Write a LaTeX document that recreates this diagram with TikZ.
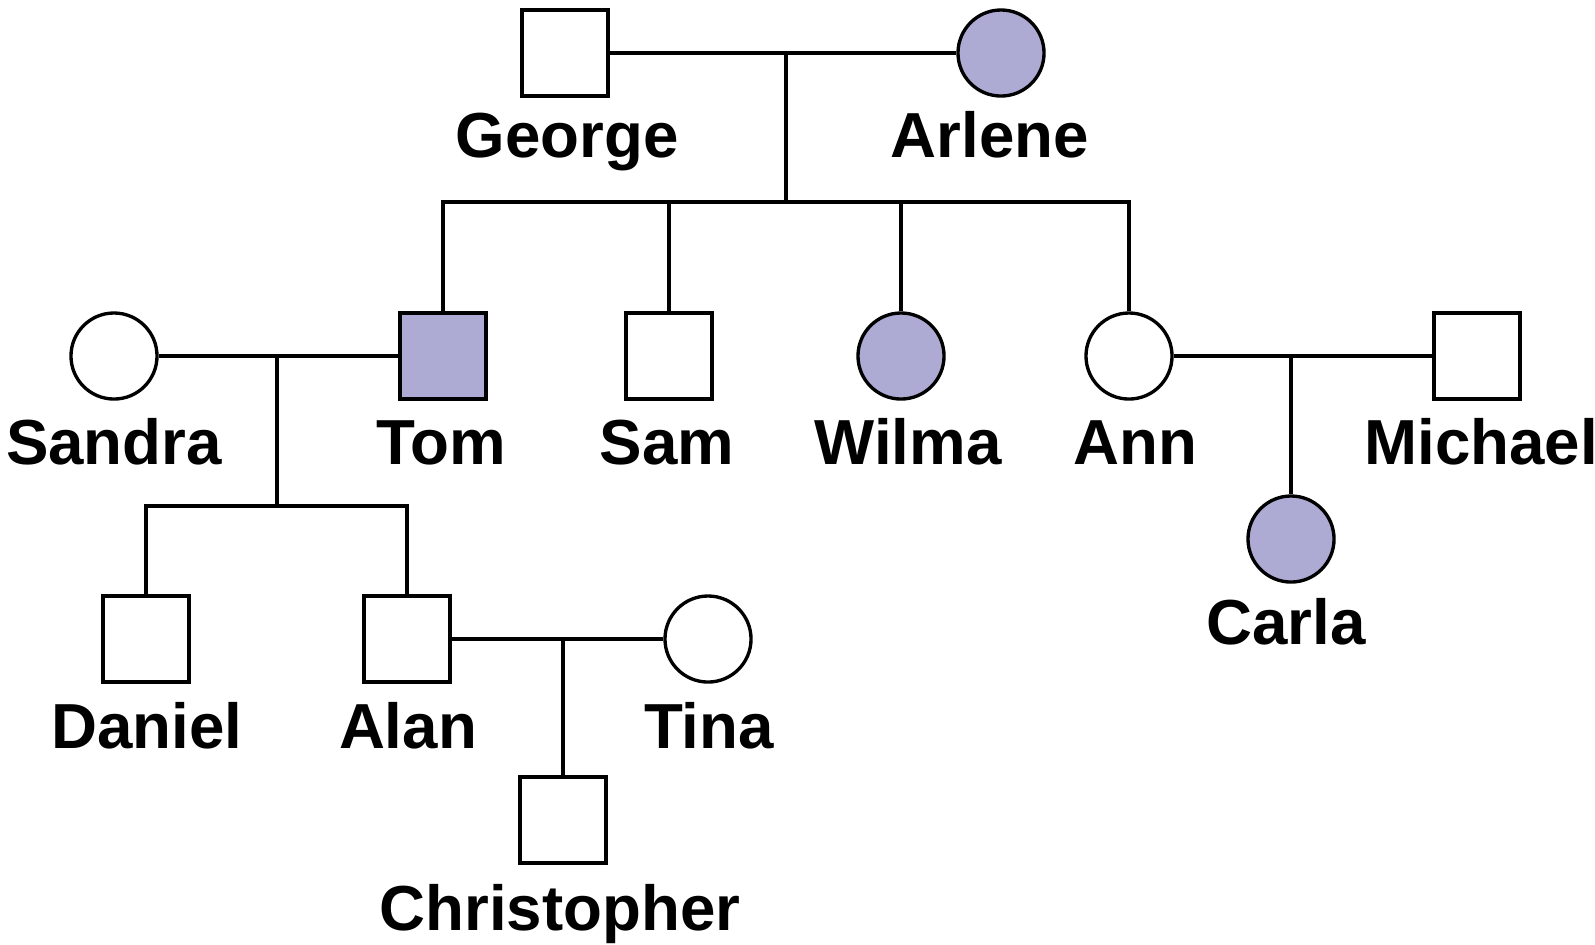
\documentclass[tikz,border=0pt]{standalone}
\usepackage{fontspec}
\setmainfont{Liberation Sans}
\definecolor{pedfill}{RGB}{173,171,212}

\begin{document}
\begin{tikzpicture}[x=0.01cm,y=-0.01cm,line width=0.95pt,
  male/.style={draw,rectangle,minimum size=0.86cm,inner sep=0pt},
  female/.style={draw,circle,minimum size=0.86cm,inner sep=0pt},
  who/.style={anchor=base,font=\fontsize{18.1}{20}\selectfont\bfseries}]
  \useasboundingbox (0,0) rectangle (1595,944);
  % generation I
  \node[male] (george) at (565,53) {};
  \node[female,fill=pedfill] (arlene) at (1001,53) {};
  \node[who] (georgeL) at (567,157) {George};
  \node[who] (arleneL) at (990,157) {Arlene};
  % generation II
  \node[female] (sandra) at (114,356) {};
  \node[male,fill=pedfill] (tom) at (443,356) {};
  \node[male] (sam) at (669,356) {};
  \node[female,fill=pedfill] (wilma) at (901,356) {};
  \node[female] (ann) at (1129,356) {};
  \node[male] (michael) at (1477,356) {};
  \node[who] (sandraL) at (114,464) {Sandra};
  \node[who] (tomL) at (441,464) {Tom};
  \node[who] (samL) at (667,464) {Sam};
  \node[who] (wilmaL) at (908,464) {Wilma};
  \node[who] (annL) at (1135,464) {Ann};
  \node[who] (michaelL) at (1481,464) {Michael};
  % generation III
  \node[male] (daniel) at (146,639) {};
  \node[male] (alan) at (407,639) {};
  \node[female] (tina) at (708,639) {};
  \node[female,fill=pedfill] (carla) at (1291,539) {};
  \node[who] (danielL) at (147,748) {Daniel};
  \node[who] (alanL) at (408,748) {Alan};
  \node[who] (tinaL) at (709,748) {Tina};
  \node[who] (carlaL) at (1286,644) {Carla};
  % generation IV
  \node[male] (chris) at (563,820) {};
  \node[who] (chrisL) at (560,930) {Christopher};

  % George + Arlene
  \coordinate (gaM) at (786,53);
  \coordinate (gaS) at (786,202);
  \draw (george) -- (arlene);
  \draw (gaM) -- (gaS);
  \draw (tom) |- (gaS) -| (ann);
  \draw (sam) -- (sam |- gaS);
  \draw (wilma) -- (wilma |- gaS);
  % Sandra + Tom
  \coordinate (stM) at (277,356);
  \coordinate (stS) at (277,506);
  \draw (sandra) -- (tom);
  \draw (stM) -- (stS);
  \draw (daniel) |- (stS) -| (alan);
  % Alan + Tina
  \coordinate (atM) at (563,639);
  \draw (alan) -- (tina);
  \draw (atM) -- (chris);
  % Ann + Michael
  \coordinate (amM) at (1291,356);
  \draw (ann) -- (michael);
  \draw (amM) -- (carla);
\end{tikzpicture}
\end{document}
